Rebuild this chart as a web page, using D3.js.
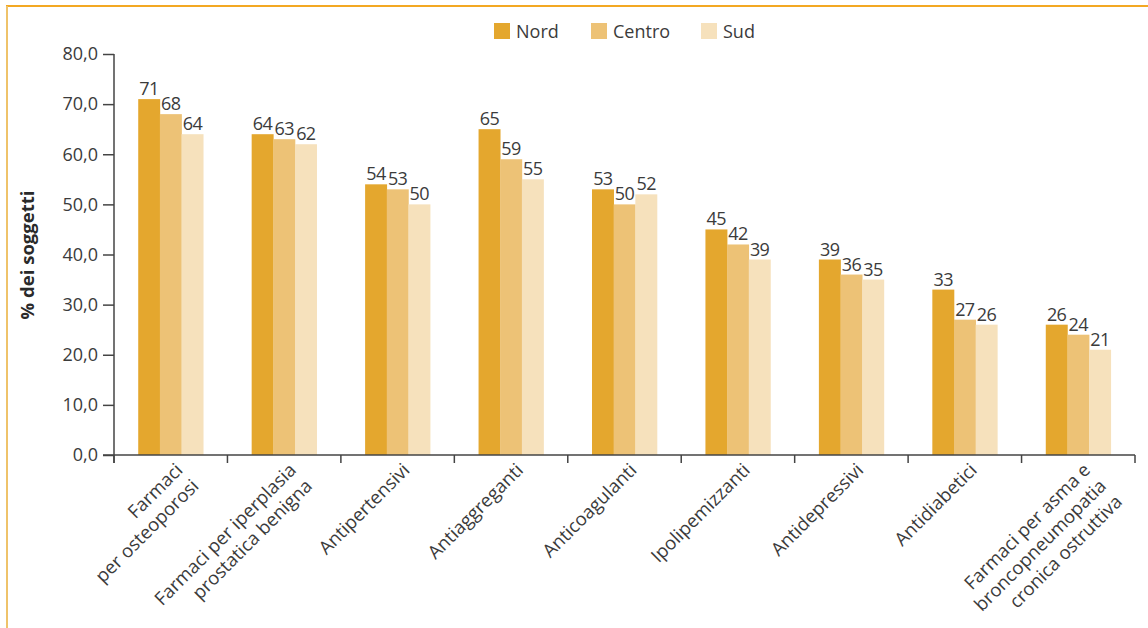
<!DOCTYPE html>
<html><head><meta charset="utf-8">
<script src="https://cdn.jsdelivr.net/npm/d3@7"></script>
<style>body{margin:0;background:#fff;} svg{display:block;}</style>
</head><body>
<svg id="chart" width="1148" height="628"></svg>
<script>
const categories = [
  ["Farmaci","per osteoporosi"],
  ["Farmaci per iperplasia","prostatica benigna"],
  ["Antipertensivi"],
  ["Antiaggreganti"],
  ["Anticoagulanti"],
  ["Ipolipemizzanti"],
  ["Antidepressivi"],
  ["Antidiabetici"],
  ["Farmaci per asma e","broncopneumopatia","cronica ostruttiva"]
];
const seriesNames = ["Nord","Centro","Sud"];
const nord   = [71,64,54,65,53,45,39,33,26];
const centro = [68,63,53,59,50,42,36,27,24];
const sud    = [64,62,50,55,52,39,35,26,21];
const yTicks = [0,10,20,30,40,50,60,70,80];
const colors = ["#E4A72E","#EDC276","#F6E1BC"];

(function(){
const series = [nord, centro, sud];
const svg = d3.select("#chart");
const font = "'Open Sans', sans-serif";
const textColor = "#3b3b3b";

// frame
svg.append("line").attr("x1",6).attr("x2",1148).attr("y1",6).attr("y2",6)
  .attr("stroke","#F3A823").attr("stroke-width",2);
svg.append("line").attr("x1",7).attr("x2",7).attr("y1",6).attr("y2",628)
  .attr("stroke","#EFC36A").attr("stroke-width",2);

const mL = 114, mR = 1135, mT = 54, mB = 455;
const x0 = d3.scaleBand().domain(d3.range(categories.length)).range([mL,mR]).paddingInner(0.427).paddingOuter(0.2135);
const x1 = d3.scaleBand().domain(d3.range(3)).range([0,x0.bandwidth()]);
const y = d3.scaleLinear().domain([0,80]).range([mB,mT]);

// bars
const g = svg.append("g");
categories.forEach((c,i)=>{
  series.forEach((s,j)=>{
    g.append("rect")
      .attr("x", x0(i)+x1(j)).attr("width", x1.bandwidth()+0.3)
      .attr("y", y(s[i])).attr("height", y(0)-y(s[i]))
      .attr("fill", colors[j]);
    g.append("text")
      .attr("x", x0(i)+x1(j)+x1.bandwidth()/2)
      .attr("y", y(s[i])-4)
      .attr("text-anchor","middle")
      .attr("font-family",font).attr("font-size",18).attr("letter-spacing",-0.6)
      .attr("fill",textColor)
      .text(s[i]);
  });
});

// y axis
const yAxis = d3.axisLeft(y).tickValues(yTicks).tickSize(11).tickFormat(d=>d3.format(".1f")(d).replace(".",","));
const ya = svg.append("g").attr("transform",`translate(${mL},0)`).call(yAxis);
ya.select(".domain").attr("d",`M0,${mT}V${mB+8}`).attr("stroke","#444").attr("stroke-width",1.5);
ya.selectAll(".tick line").attr("stroke","#444").attr("stroke-width",1.5);
ya.selectAll(".tick text").attr("font-family",font).attr("font-size",18).attr("fill",textColor).attr("x",-16);

// x axis
const xa = svg.append("g").attr("transform",`translate(0,${mB})`);
xa.append("line").attr("x1",mL-11).attr("x2",mR).attr("stroke","#444").attr("stroke-width",1.5);
const tickPos = d3.range(categories.length+1).map(i=> mL + i*x0.step());
xa.selectAll(".xt").data(tickPos).join("line").attr("class","xt")
  .attr("x1",d=>d).attr("x2",d=>d).attr("y1",0).attr("y2",8)
  .attr("stroke","#444").attr("stroke-width",1.5);

categories.forEach((lines,i)=>{
  const cx = x0(i)+x0.bandwidth()/2;
  const t = svg.append("text")
    .attr("transform",`translate(${cx+4},${mB+7}) rotate(-45)`)
    .attr("text-anchor","end")
    .attr("font-family",font).attr("font-size",18.5).attr("fill",textColor);
  lines.forEach((ln,k)=>{
    t.append("tspan").attr("x",0).attr("y", 0).attr("dy", (k*22.5 + 13)+"px").text(ln);
  });
});

// y title
svg.append("text")
  .attr("transform","translate(34,255) rotate(-90)")
  .attr("text-anchor","middle")
  .attr("font-family",font).attr("font-size",18.5).attr("font-weight","bold")
  .attr("fill","#2a2a2a")
  .text("% dei soggetti");

// legend
const legX = [494,591,701];
seriesNames.forEach((n,j)=>{
  svg.append("rect").attr("x",legX[j]).attr("y",23).attr("width",16).attr("height",16).attr("fill",colors[j]);
  svg.append("text").attr("x",legX[j]+22).attr("y",37.5)
    .attr("font-family",font).attr("font-size",18).attr("fill",textColor).text(n);
});
})();
</script>
</body></html>
